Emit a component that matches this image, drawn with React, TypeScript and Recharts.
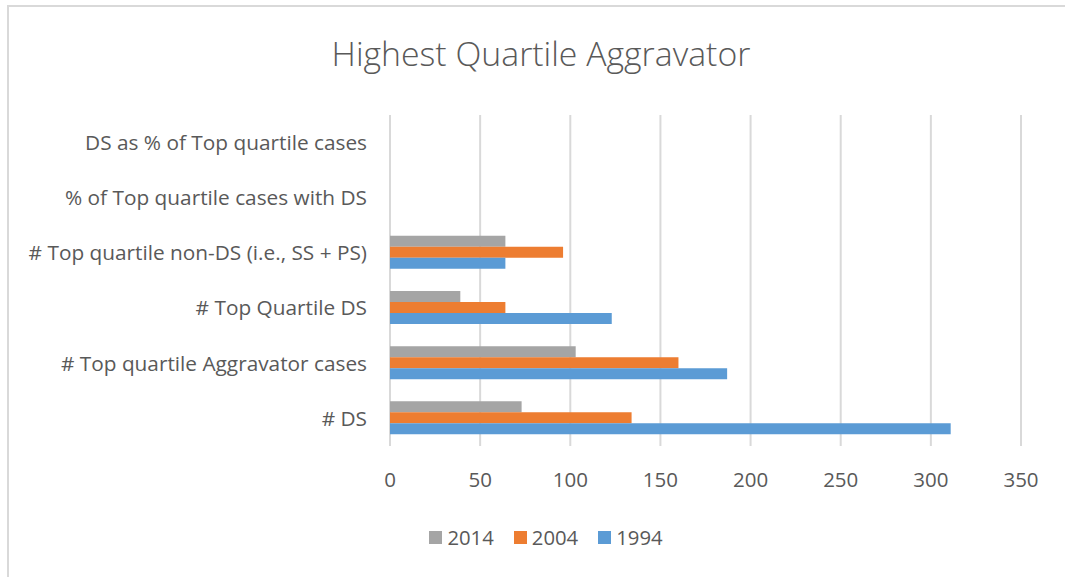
import { BarChart, Bar, XAxis, YAxis, CartesianGrid } from "recharts";

const categories = [
  "DS as % of Top quartile cases",
  "% of Top quartile cases with DS",
  "# Top quartile non-DS (i.e., SS + PS)",
  "# Top Quartile DS ",
  "# Top quartile Aggravator cases ",
  "# DS",
];
const values2014 = [0, 0, 64, 39, 103, 73];
const values2004 = [0, 0, 96, 64, 160, 134];
const values1994 = [0, 0, 64, 123, 187, 311];
const seriesNames = ["2014", "2004", "1994"];
const seriesColors = ["#A5A5A5", "#ED7D31", "#5B9BD5"];
const xTicks = [0, 50, 100, 150, 200, 250, 300, 350];

const FONT = "'Open Sans', Lato, sans-serif";
const TEXT = "#595959";

const chartData = categories.map((name, i) => ({
  name,
  "2014": values2014[i],
  "2004": values2004[i],
  "1994": values1994[i],
}));

function CategoryTick({ x, y, payload }: any) {
  return (
    <text x={x} y={y} dy="0.35em" textAnchor="end" fill={TEXT} fontSize={20.8} fontFamily={FONT}>
      {payload.value}
    </text>
  );
}

function ValueTick({ x, y, payload }: any) {
  return (
    <text x={x} y={y} dy="0.71em" textAnchor="middle" fill={TEXT} fontSize={20.5} fontFamily={FONT}>
      {payload.value}
    </text>
  );
}

export default function App() {
  return (
    <div
      style={{
        position: "absolute",
        left: 0,
        top: 0,
        width: 1065,
        height: 577,
        background: "#fff",
        overflow: "hidden",
      }}
    >
      {/* chart frame, only left and top edges are in view */}
      <div
        style={{
          position: "absolute",
          left: 7,
          top: 5,
          width: 1100,
          height: 600,
          borderLeft: "2px solid #d9d9d9",
          borderTop: "2px solid #d9d9d9",
        }}
      />
      <div
        style={{
          position: "absolute",
          left: 0,
          top: 30,
          width: 1082,
          textAlign: "center",
          fontFamily: FONT,
          fontWeight: 300,
          fontSize: 33.8,
          color: TEXT,
        }}
      >
        Highest Quartile Aggravator
      </div>
      <div style={{ position: "absolute", left: 0, top: 0 }}>
        <BarChart
          width={1065}
          height={577}
          data={chartData}
          layout="vertical"
          margin={{ top: 115, right: 44, bottom: 91, left: 0 }}
          barCategoryGap="19%"
          barGap={0}
        >
          <CartesianGrid horizontal={false} stroke="#d9d9d9" strokeWidth={2} />
          <XAxis
            type="number"
            domain={[0, 350]}
            ticks={xTicks}
            axisLine={false}
            tickLine={false}
            tickSize={0}
            tickMargin={26}
            height={40}
            tick={<ValueTick />}
          />
          <YAxis
            type="category"
            dataKey="name"
            width={390}
            axisLine={false}
            tickLine={false}
            tickSize={0}
            tickMargin={23}
            tick={<CategoryTick />}
          />
          {seriesNames.map((s, i) => (
            <Bar key={s} dataKey={s} fill={seriesColors[i]} isAnimationActive={false} />
          ))}
        </BarChart>
      </div>
      <div
        style={{
          position: "absolute",
          left: 0,
          top: 523,
          width: 1092,
          display: "flex",
          justifyContent: "center",
          gap: 20,
          fontFamily: FONT,
          fontSize: 20.3,
          color: TEXT,
        }}
      >
        {seriesNames.map((s, i) => (
          <div key={s} style={{ display: "flex", alignItems: "center", gap: 5 }}>
            <span style={{ width: 13, height: 13, background: seriesColors[i], display: "inline-block" }} />
            <span>{s}</span>
          </div>
        ))}
      </div>
    </div>
  );
}
